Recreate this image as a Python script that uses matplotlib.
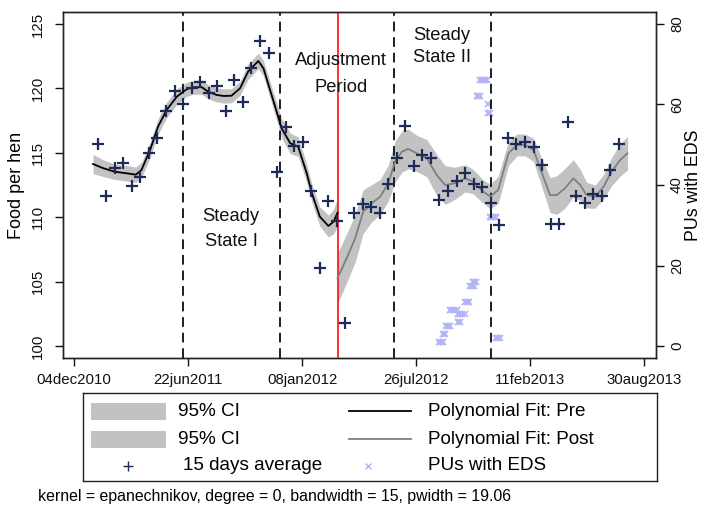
import numpy as np
import pandas as pd
import matplotlib
matplotlib.use("Agg")
import matplotlib.pyplot as plt
import matplotlib.dates as mdates
from matplotlib.patches import Rectangle
from matplotlib.lines import Line2D

plt.rcParams['font.family'] = ['Liberation Sans', 'DejaVu Sans']

# Day offsets below are counted from this date
origin = pd.Timestamp("2010-12-04")

# 15-day averages of food per hen (first bin starts 14jan2011)
avg_start = "2011-01-14"
avg_food = [115.68, 111.61, 113.80, 114.18, 112.42, 113.14, 114.96, 116.13, 118.27, 119.82,
            118.79, 120.05, 120.52, 119.62, 120.19, 118.25, 120.65, 118.97, 121.56, 123.70,
            122.73, 113.53, 117.03, 115.55, 115.86, 112.03, 106.08, 111.26, 109.73, 101.76,
            110.35, 111.00, 110.81, 110.35, 112.58, 114.62, 117.08, 114.00, 114.83, 114.57,
            111.37, 112.05, 112.79, 113.45, 112.54, 112.31, 111.13, 109.39, 116.13, 115.68,
            115.86, 115.47, 114.05, 109.47, 109.47, 117.41, 111.67, 111.13, 111.80, 111.67,
            113.66, 115.68]

# Local polynomial fit before the policy change: day, fitted value, CI half-width
pre_day = [33, 51, 71, 92, 108, 118, 133, 147, 162, 180, 197, 209, 224, 235, 250, 262,
           276, 291, 305, 323, 332, 349, 364, 379, 393, 408, 417, 431, 446, 455, 462]
pre_fit = [114.13, 113.80, 113.53, 113.41, 113.30, 113.67, 115.22, 117.03, 118.32, 119.36,
           119.93, 120.09, 120.09, 119.74, 119.49, 119.41, 119.43, 120.01, 121.30, 122.13,
           121.56, 119.10, 116.90, 115.74, 115.47, 113.41, 111.86, 110.04, 109.32, 109.65,
           110.35]
pre_ci = [0.75, 0.65, 0.60, 0.60, 0.60, 0.60, 0.60, 0.60, 0.60, 0.60, 0.55, 0.55, 0.55,
          0.55, 0.55, 0.55, 0.55, 0.55, 0.60, 0.60, 0.60, 0.65, 0.75, 0.80, 0.75, 0.70,
          0.70, 0.75, 0.85, 0.95, 1.10]

# Local polynomial fit after the policy change
post_day = [462, 478, 493, 507, 522, 537, 551, 563, 575, 586, 601, 619, 636, 651, 668, 686,
            700, 718, 730, 744, 762, 777, 791, 806, 820, 835, 847, 861, 876, 888, 899, 914,
            929, 943, 958, 971]
post_fit = [105.26, 106.81, 108.36, 110.43, 111.08, 111.59, 112.63, 114.31, 115.09, 115.30,
            114.96, 114.57, 113.28, 112.50, 112.63, 113.02, 112.76, 111.98, 111.61, 112.11,
            114.96, 115.61, 115.61, 115.22, 113.53, 111.72, 111.72, 112.24, 113.02, 112.50,
            111.72, 111.59, 112.37, 113.53, 114.44, 114.96]
post_ci = [1.95, 1.90, 1.85, 1.70, 1.45, 1.35, 1.40, 1.60, 1.60, 1.55, 1.40, 1.45, 1.60,
           1.50, 1.25, 1.05, 0.95, 0.90, 0.95, 1.05, 0.95, 0.85, 0.85, 0.90, 1.10, 1.35,
           1.50, 1.55, 1.45, 1.20, 1.00, 0.90, 0.95, 1.10, 1.25, 1.30]

# Production units with EDS (right axis): day, count
eds_day = [641, 644, 647, 648, 651, 652, 656, 659, 659, 663, 667, 671, 673, 677, 681, 685,
           673, 677, 685, 689, 693, 694, 698, 701, 699, 702, 705, 741, 744, 747,
           712, 715, 718, 721, 724, 706, 709, 712, 727, 726, 729, 705,
           729, 732, 735, 738, 741]
eds_count = [1, 1, 1, 3, 3, 5, 5, 5, 9, 9, 9, 9, 8, 8, 8, 8,
             6, 6, 11, 11, 11, 15, 15, 15, 16, 16, 16, 2, 2, 2,
             66, 66, 66, 66, 66, 62, 62, 62, 60, 58, 58, 40,
             32, 32, 32, 32, 32]

period_breaks = ["2011-06-13", "2011-11-30", "2012-06-17", "2012-12-05"]
policy_date = "2012-03-11"
xtick_dates = ["2010-12-04", "2011-06-22", "2012-01-08", "2012-07-26", "2013-02-11", "2013-08-30"]


def to_dates(days):
    return origin + pd.to_timedelta(np.asarray(days), unit="D")


def stata_date(d):
    return f"{d.day:02d}{d.strftime('%b').lower()}{d.year}"


W, H = 703, 509
fig = plt.figure(figsize=(W / 100, H / 100), dpi=100)
ax = fig.add_axes([63 / W, 1 - 358 / H, 593 / W, 346 / H])

band_col = "#c2c2c2"
navy = "#1c2b58"
eds_col = "#b2b4f8"

pre_x = to_dates(pre_day)
post_x = to_dates(post_day)
pre_fit_a = np.array(pre_fit)
post_fit_a = np.array(post_fit)
ax.fill_between(pre_x, pre_fit_a - np.array(pre_ci), pre_fit_a + np.array(pre_ci),
                color=band_col, lw=0, zorder=1)
ax.fill_between(post_x, post_fit_a - np.array(post_ci), post_fit_a + np.array(post_ci),
                color=band_col, lw=0, zorder=1)
ax.plot(pre_x, pre_fit_a, color="black", lw=1.3, zorder=3)
ax.plot(post_x, post_fit_a, color="#7f7f7f", lw=1.3, zorder=3)

avg_x = pd.date_range(avg_start, periods=len(avg_food), freq="15D")
ax.plot(avg_x, avg_food, ls="none", marker="+", ms=8, mew=1.6, color=navy, zorder=5)

for d in period_breaks:
    ax.axvline(pd.Timestamp(d), color="#1e1e1e", lw=1.4, dashes=(5, 3), zorder=2)
ax.axvline(pd.Timestamp(policy_date), color="#ff2020", lw=1.3, zorder=2)

# Period annotations
tkw = dict(ha="center", va="center", fontsize=13.2, color="#111111")
ax.text(to_dates([275])[0], 110.09, "Steady", **tkw)
ax.text(to_dates([275])[0], 108.15, "State I", **tkw)
ax.text(to_dates([468])[0], 122.15, "Adjustment", **tkw)
ax.text(to_dates([468])[0], 120.09, "Period", **tkw)
ax.text(to_dates([645])[0], 124.07, "Steady", **tkw)
ax.text(to_dates([645])[0], 122.41, "State II", **tkw)

x_lo = origin - pd.Timedelta(days=19.8)
x_hi = origin + pd.Timedelta(days=1021)
ax.set_xlim(x_lo, x_hi)
ax.set_ylim(99.07, 125.93)

xt = [pd.Timestamp(d) for d in xtick_dates]
ax.set_xticks(xt)
ax.set_xticklabels([stata_date(d) for d in xt])
ax.set_yticks([100, 105, 110, 115, 120, 125])
ax.tick_params(axis="x", length=6, width=1, pad=5, labelsize=10.8, colors="#111111")
ax.tick_params(axis="y", length=6, width=1, pad=7, labelsize=10.8, colors="#111111")
for lab in ax.get_yticklabels():
    lab.set_rotation(90)
    lab.set_va("center")
ax.set_ylabel("Food per hen", fontsize=13, labelpad=4)

ax2 = ax.twinx()
ax2.plot(to_dates(eds_day), eds_count, ls="none", marker="x", ms=4.5, mew=1.3,
         color=eds_col, zorder=4)
ax2.set_ylim((99.07 - 100) * 3.2, (125.93 - 100) * 3.2)
ax2.set_yticks([0, 20, 40, 60, 80])
ax2.tick_params(axis="y", length=6, width=1, pad=4, labelsize=10.8, colors="#111111")
for lab in ax2.get_yticklabels():
    lab.set_rotation(90)
    lab.set_va("center")
ax2.set_ylabel("PUs with EDS", fontsize=12.8, labelpad=1)
ax.set_zorder(ax2.get_zorder() + 1)
ax.patch.set_visible(False)

for a in (ax, ax2):
    for s in a.spines.values():
        s.set_color("#222222")
        s.set_linewidth(1.0)

# Legend drawn in its own pixel-scaled box
leg = fig.add_axes([83 / W, 1 - 481 / H, 574 / W, 88 / H])
leg.set_xlim(0, 574)
leg.set_ylim(88, 0)
leg.set_xticks([])
leg.set_yticks([])
for s in leg.spines.values():
    s.set_color("#222222")
    s.set_linewidth(1.0)
lfs = 13.6
for yc in (18, 46):
    leg.add_patch(Rectangle((8, yc - 8.5), 75, 17, color=band_col, lw=0))
    leg.text(95, yc, "95% CI", fontsize=lfs, va="center", ha="left")
leg.add_line(Line2D([266, 328], [18, 18], color="black", lw=1.3))
leg.text(345, 18, "Polynomial Fit: Pre", fontsize=lfs, va="center", ha="left")
leg.add_line(Line2D([266, 328], [46, 46], color="#7f7f7f", lw=1.3))
leg.text(345, 46, "Polynomial Fit: Post", fontsize=lfs, va="center", ha="left")
leg.plot([45], [73], ls="none", marker="+", ms=7, mew=1.0, color=navy)
leg.text(100, 73, "15 days average", fontsize=lfs, va="center", ha="left")
leg.plot([285], [73], ls="none", marker="x", ms=4, mew=1.0, color=eds_col)
leg.text(345, 73, "PUs with EDS", fontsize=lfs, va="center", ha="left")

fig.text(38 / W, 1 - 497 / H, "kernel = epanechnikov, degree = 0, bandwidth = 15, pwidth = 19.06",
         fontsize=11.4, va="center", ha="left")

fig.savefig("out.png", dpi=100)
